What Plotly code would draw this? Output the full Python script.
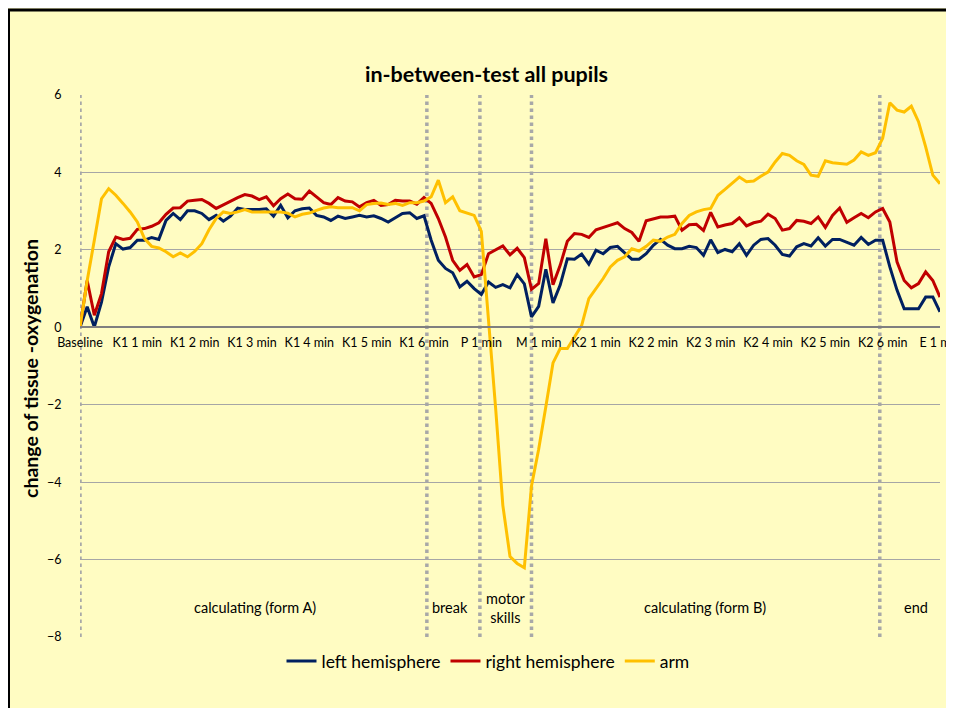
import plotly.graph_objects as go

tick_labels = ["Baseline", "K1 1 min", "K1 2 min", "K1 3 min", "K1 4 min", "K1 5 min",
               "K1 6 min", "P 1 min", "M 1 min", "K2 1 min", "K2 2 min", "K2 3 min",
               "K2 4 min", "K2 5 min", "K2 6 min", "E 1 min"]
points_per_label = 8

left_hemisphere = [
    0, 0.53, 0.01, 0.65, 1.56, 2.16, 2.02, 2.06, 2.25, 2.25, 2.32, 2.27, 2.76, 2.94, 2.78, 3.01,
    3.01, 2.94, 2.78, 2.89, 2.74, 2.87, 3.08, 3.04, 3.04, 3.04, 3.06, 2.87, 3.15, 2.83, 3.01, 3.06,
    3.08, 2.89, 2.85, 2.76, 2.87, 2.81, 2.85, 2.89, 2.85, 2.88, 2.81, 2.72, 2.83, 2.94, 2.96, 2.81,
    2.88, 2.25, 1.73, 1.52, 1.41, 1.04, 1.19, 1.00, 0.85, 1.17, 1.03, 1.10, 1.02, 1.36, 1.12, 0.27,
    0.54, 1.50, 0.63, 1.09, 1.77, 1.76, 1.89, 1.63, 1.99, 1.90, 2.06, 2.09, 1.92, 1.76, 1.76, 1.90,
    2.12, 2.27, 2.12, 2.03, 2.03, 2.09, 2.06, 1.86, 2.26, 1.93, 2.01, 1.95, 2.16, 1.86, 2.12, 2.27,
    2.29, 2.12, 1.88, 1.84, 2.08, 2.16, 2.10, 2.31, 2.10, 2.27, 2.27, 2.20, 2.12, 2.32, 2.14, 2.25,
    2.25, 1.56, 0.96, 0.48, 0.48, 0.48, 0.78, 0.78, 0.40]

right_hemisphere = [
    0, 1.21, 0.31, 0.87, 1.95, 2.33, 2.27, 2.30, 2.53, 2.55, 2.61, 2.70, 2.92, 3.08, 3.09, 3.26,
    3.28, 3.30, 3.20, 3.07, 3.16, 3.26, 3.35, 3.43, 3.39, 3.30, 3.37, 3.14, 3.32, 3.44, 3.32, 3.31,
    3.52, 3.37, 3.22, 3.17, 3.35, 3.26, 3.24, 3.11, 3.22, 3.28, 3.15, 3.17, 3.28, 3.26, 3.26, 3.18,
    3.35, 3.20, 2.81, 2.33, 1.73, 1.47, 1.62, 1.30, 1.36, 1.90, 2.00, 2.10, 1.87, 2.04, 1.80, 0.98,
    1.13, 2.29, 1.10, 1.60, 2.22, 2.42, 2.40, 2.32, 2.52, 2.59, 2.64, 2.70, 2.55, 2.45, 2.22, 2.75,
    2.81, 2.85, 2.85, 2.87, 2.51, 2.65, 2.66, 2.50, 2.97, 2.59, 2.64, 2.68, 2.83, 2.62, 2.70, 2.74,
    2.92, 2.81, 2.51, 2.55, 2.76, 2.74, 2.68, 2.85, 2.58, 2.89, 3.08, 2.71, 2.83, 2.94, 2.83, 2.98,
    3.07, 2.72, 1.69, 1.21, 1.02, 1.13, 1.43, 1.21, 0.78]

arm = [
    0, 1.20, 2.25, 3.32, 3.58, 3.41, 3.20, 2.98, 2.72, 2.29, 2.09, 2.05, 1.95, 1.82, 1.92, 1.82,
    1.96, 2.16, 2.52, 2.81, 2.98, 2.94, 2.98, 3.04, 2.98, 2.98, 2.98, 2.98, 2.98, 2.95, 2.85, 2.92,
    2.95, 3.02, 3.08, 3.11, 3.09, 3.09, 3.09, 3.01, 3.17, 3.20, 3.21, 3.17, 3.20, 3.15, 3.22, 3.22,
    3.26, 3.37, 3.80, 3.22, 3.37, 3.01, 2.94, 2.89, 2.48, 0.30, -2.10, -4.60, -5.92, -6.10, -6.21, -4.10,
    -3.15, -2.05, -0.92, -0.55, -0.55, -0.25, 0.05, 0.74, 1.00, 1.26, 1.56, 1.73, 1.82, 2.03, 1.97, 2.09,
    2.25, 2.22, 2.33, 2.40, 2.68, 2.89, 2.98, 3.04, 3.07, 3.41, 3.56, 3.73, 3.88, 3.76, 3.78, 3.90,
    4.01, 4.27, 4.49, 4.44, 4.30, 4.21, 3.93, 3.90, 4.30, 4.25, 4.23, 4.21, 4.32, 4.53, 4.44, 4.51,
    4.88, 5.80, 5.61, 5.56, 5.71, 5.31, 4.66, 3.93, 3.71]

phase_names = ["calculating (form A)", "break", "motor<br>skills", "calculating (form B)", "end"]
phase_label_x = [24.4, 51.6, 59.4, 87.2, 116.6]
phase_bounds = [0, 48.4, 55.8, 63.0, 111.6]

series_names = ["left hemisphere", "right hemisphere", "arm"]
series_colors = ["#002060", "#C00000", "#FFC000"]

x = list(range(len(arm)))

# page is offset by the browser's 8px body margin
OFF = 8
W, H = 946, 700
ML = 80 - OFF
MT = 95 - OFF
MR = W - (940 - OFF)
MB = H - (637 - OFF)
PW, PH = W - ML - MR, H - MT - MB
FONT = "Lato"
BG = "#FFFCC2"


def px_x(p):
    return (p - OFF - ML) / PW


def px_y(p):
    return (H - MB - (p - OFF)) / PH


fig = go.Figure()
for name, vals, col in zip(series_names, [left_hemisphere, right_hemisphere, arm], series_colors):
    fig.add_trace(go.Scatter(x=x, y=vals, mode="lines", name=name,
                             line=dict(color=col, width=3)))

shapes = [dict(type="rect", xref="paper", yref="paper",
               x0=px_x(8.5), x1=px_x(1100), y0=px_y(900), y1=px_y(10),
               fillcolor=BG, line=dict(color="black", width=3), layer="below")]
for b in phase_bounds:
    shapes.append(dict(type="line", xref="x", yref="y", x0=b, x1=b, y0=-8, y1=6,
                       line=dict(color="#a8a8a8", width=3.5, dash="dot"), layer="below"))

annotations = [
    dict(text="<b>in-between-test all pupils</b>", xref="paper", yref="paper",
         x=px_x(486), y=px_y(74), showarrow=False, xanchor="center", yanchor="middle",
         font=dict(size=21.5, color="black", family=FONT)),
    dict(text="<b>change of tissue -oxygenation</b>", xref="paper", yref="paper",
         x=px_x(30), y=px_y(369), showarrow=False, textangle=-90,
         xanchor="center", yanchor="middle",
         font=dict(size=19.5, color="black", family=FONT)),
]
for name, px in zip(phase_names, phase_label_x):
    annotations.append(dict(text=name, x=px, y=-7.25, xref="x", yref="y", showarrow=False,
                            xanchor="center", yanchor="middle",
                            font=dict(size=14.5, color="black", family=FONT)))

fig.update_layout(
    template="none",
    width=W, height=H,
    margin=dict(l=ML, r=MR, t=MT, b=MB, pad=0),
    paper_bgcolor=BG,
    plot_bgcolor="rgba(0,0,0,0)",
    font=dict(family=FONT, color="black", size=12),
    shapes=shapes,
    annotations=annotations,
    showlegend=True,
    legend=dict(orientation="h", x=px_x(488), y=px_y(661), xanchor="center", yanchor="middle",
                font=dict(size=17.5, family=FONT, color="black"), bgcolor="rgba(0,0,0,0)",
                itemwidth=30, traceorder="normal"),
    xaxis=dict(range=[0, len(arm) - 1], tickmode="array",
               tickvals=[i * points_per_label for i in range(len(tick_labels))],
               ticktext=tick_labels, showgrid=False, zeroline=False,
               anchor="free", position=8 / 14, showline=True, linecolor="#7f7f7f", linewidth=1.5,
               ticks="outside", ticklen=4, tickcolor="rgba(0,0,0,0)", automargin=False,
               ticklabeloverflow="allow",
               tickfont=dict(size=12.5, family=FONT, color="black")),
    yaxis=dict(range=[-8, 6], tickvals=[-8, -6, -4, -2, 0, 2, 4, 6], showgrid=True,
               gridcolor="#a6a6a6", gridwidth=1.3, zeroline=False, showline=False,
               ticks="outside", ticklen=15, tickcolor="rgba(0,0,0,0)", automargin=False,
               tickfont=dict(size=12.5, family=FONT, color="black")),
)

fig.write_html("out.html")
